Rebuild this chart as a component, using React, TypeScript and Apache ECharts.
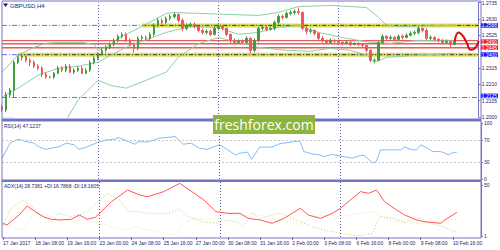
import React, { useEffect, useRef } from "react";
import * as echarts from "echarts";

const tickLabels = ["17 Jan 2017", "18 Jan 08:00", "19 Jan 16:00", "23 Jan 00:00", "24 Jan 08:00", "25 Jan 16:00", "27 Jan 00:00", "30 Jan 08:00", "31 Jan 16:00", "2 Feb 00:00", "3 Feb 08:00", "6 Feb 16:00", "8 Feb 00:00", "9 Feb 08:00", "10 Feb 16:00"];
const barCount = 120;
const weekStarts = [24, 54, 84];

// [open, close, low, high]
const candles: number[][] = [
  [1.2064, 1.2045, 1.2032, 1.2077], [1.2045, 1.2141, 1.2032, 1.2160], [1.2141, 1.2173, 1.2128, 1.2185], [1.2173, 1.2351, 1.2128, 1.2364],
  [1.2351, 1.2383, 1.2339, 1.2396], [1.2383, 1.2390, 1.2364, 1.2403], [1.2390, 1.2364, 1.2351, 1.2396], [1.2364, 1.2351, 1.2326, 1.2377],
  [1.2351, 1.2326, 1.2313, 1.2364], [1.2326, 1.2313, 1.2300, 1.2339], [1.2313, 1.2275, 1.2256, 1.2326], [1.2275, 1.2256, 1.2243, 1.2288],
  [1.2256, 1.2256, 1.2249, 1.2262], [1.2256, 1.2281, 1.2243, 1.2288], [1.2281, 1.2313, 1.2275, 1.2326], [1.2313, 1.2300, 1.2288, 1.2326],
  [1.2300, 1.2326, 1.2288, 1.2339], [1.2326, 1.2288, 1.2281, 1.2339], [1.2288, 1.2300, 1.2275, 1.2313], [1.2300, 1.2313, 1.2288, 1.2326],
  [1.2313, 1.2281, 1.2275, 1.2326], [1.2281, 1.2300, 1.2275, 1.2313], [1.2300, 1.2351, 1.2288, 1.2364], [1.2351, 1.2377, 1.2339, 1.2390],
  [1.2377, 1.2409, 1.2364, 1.2415], [1.2409, 1.2428, 1.2396, 1.2441], [1.2428, 1.2447, 1.2415, 1.2460], [1.2447, 1.2466, 1.2435, 1.2479],
  [1.2466, 1.2492, 1.2454, 1.2505], [1.2492, 1.2518, 1.2479, 1.2530], [1.2518, 1.2530, 1.2505, 1.2543], [1.2530, 1.2492, 1.2479, 1.2543],
  [1.2492, 1.2466, 1.2454, 1.2505], [1.2466, 1.2441, 1.2415, 1.2479], [1.2441, 1.2505, 1.2428, 1.2518], [1.2505, 1.2511, 1.2492, 1.2524],
  [1.2511, 1.2505, 1.2492, 1.2524], [1.2505, 1.2530, 1.2492, 1.2543], [1.2530, 1.2588, 1.2518, 1.2601], [1.2588, 1.2620, 1.2575, 1.2633],
  [1.2620, 1.2607, 1.2594, 1.2633], [1.2607, 1.2633, 1.2594, 1.2645], [1.2633, 1.2645, 1.2620, 1.2658], [1.2645, 1.2658, 1.2633, 1.2671],
  [1.2658, 1.2620, 1.2607, 1.2665], [1.2620, 1.2569, 1.2550, 1.2633], [1.2569, 1.2588, 1.2556, 1.2601], [1.2588, 1.2594, 1.2575, 1.2607],
  [1.2594, 1.2581, 1.2569, 1.2607], [1.2581, 1.2556, 1.2543, 1.2588], [1.2556, 1.2543, 1.2530, 1.2569], [1.2543, 1.2550, 1.2530, 1.2562],
  [1.2550, 1.2530, 1.2518, 1.2562], [1.2530, 1.2569, 1.2524, 1.2581], [1.2569, 1.2581, 1.2556, 1.2594], [1.2581, 1.2569, 1.2556, 1.2588],
  [1.2569, 1.2530, 1.2518, 1.2575], [1.2530, 1.2492, 1.2473, 1.2537], [1.2492, 1.2479, 1.2466, 1.2505], [1.2479, 1.2486, 1.2473, 1.2498],
  [1.2486, 1.2479, 1.2466, 1.2498], [1.2479, 1.2505, 1.2473, 1.2518], [1.2505, 1.2428, 1.2409, 1.2511], [1.2428, 1.2492, 1.2415, 1.2505],
  [1.2492, 1.2569, 1.2479, 1.2581], [1.2569, 1.2575, 1.2556, 1.2588], [1.2575, 1.2562, 1.2550, 1.2588], [1.2562, 1.2569, 1.2556, 1.2581],
  [1.2569, 1.2607, 1.2556, 1.2620], [1.2607, 1.2645, 1.2594, 1.2658], [1.2645, 1.2639, 1.2626, 1.2658], [1.2639, 1.2665, 1.2633, 1.2677],
  [1.2665, 1.2671, 1.2652, 1.2684], [1.2671, 1.2677, 1.2658, 1.2690], [1.2677, 1.2671, 1.2658, 1.2703], [1.2671, 1.2569, 1.2556, 1.2677],
  [1.2569, 1.2550, 1.2530, 1.2581], [1.2550, 1.2556, 1.2537, 1.2569], [1.2556, 1.2537, 1.2524, 1.2562], [1.2537, 1.2505, 1.2492, 1.2543],
  [1.2505, 1.2492, 1.2479, 1.2518], [1.2492, 1.2479, 1.2466, 1.2498], [1.2479, 1.2492, 1.2473, 1.2505], [1.2492, 1.2486, 1.2473, 1.2498],
  [1.2486, 1.2479, 1.2466, 1.2498], [1.2479, 1.2473, 1.2460, 1.2486], [1.2473, 1.2479, 1.2466, 1.2492], [1.2479, 1.2466, 1.2454, 1.2486],
  [1.2466, 1.2473, 1.2460, 1.2479], [1.2473, 1.2466, 1.2454, 1.2479], [1.2466, 1.2460, 1.2447, 1.2473], [1.2460, 1.2428, 1.2415, 1.2466],
  [1.2428, 1.2364, 1.2351, 1.2435], [1.2364, 1.2364, 1.2345, 1.2377], [1.2364, 1.2479, 1.2358, 1.2486], [1.2479, 1.2518, 1.2466, 1.2530],
  [1.2518, 1.2505, 1.2492, 1.2524], [1.2505, 1.2511, 1.2492, 1.2524], [1.2511, 1.2498, 1.2486, 1.2518], [1.2498, 1.2518, 1.2492, 1.2530],
  [1.2518, 1.2511, 1.2498, 1.2530], [1.2511, 1.2524, 1.2505, 1.2537], [1.2524, 1.2537, 1.2518, 1.2550], [1.2537, 1.2543, 1.2524, 1.2556],
  [1.2543, 1.2569, 1.2530, 1.2581], [1.2569, 1.2556, 1.2543, 1.2575], [1.2556, 1.2505, 1.2492, 1.2569], [1.2505, 1.2511, 1.2492, 1.2524],
  [1.2511, 1.2498, 1.2486, 1.2518], [1.2498, 1.2492, 1.2479, 1.2505], [1.2492, 1.2479, 1.2466, 1.2498], [1.2479, 1.2486, 1.2473, 1.2498],
  [1.2486, 1.2466, 1.2441, 1.2492], [1.2466, 1.2486, 1.2460, 1.2492],
];

const bbUpper: number[][] = [[0, 1.2288], [4, 1.2396], [8, 1.2447], [11, 1.2473], [14, 1.2479], [20, 1.2479], [23, 1.2466], [24, 1.2428], [26, 1.2447], [29, 1.2505], [34, 1.2569], [41, 1.2665], [43, 1.2671], [49, 1.2665], [57, 1.2658], [64, 1.2652], [69, 1.2671], [74, 1.2709], [82, 1.2716], [91, 1.2703], [94, 1.2639], [96, 1.2588], [99, 1.2581], [113, 1.2588]];
const bbMiddle: number[][] = [[0, 1.2128], [4, 1.2185], [9, 1.2268], [14, 1.2313], [19, 1.2326], [24, 1.2351], [27, 1.2396], [32, 1.2460], [37, 1.2505], [41, 1.2543], [47, 1.2581], [54, 1.2575], [59, 1.2530], [64, 1.2543], [69, 1.2575], [74, 1.2588], [79, 1.2543], [86, 1.2505], [92, 1.2479], [97, 1.2473], [104, 1.2492], [113, 1.2492]];
const bbLower: number[][] = [[0, 1.1994], [3, 1.1994], [5, 1.1940], [14, 1.1940], [16, 1.1981], [19, 1.2109], [24, 1.2236], [27, 1.2204], [31, 1.2185], [36, 1.2236], [41, 1.2288], [44, 1.2383], [49, 1.2470], [54, 1.2510], [59, 1.2480], [64, 1.2447], [71, 1.2428], [77, 1.2422], [82, 1.2441], [87, 1.2428], [91, 1.2396], [93, 1.2351], [96, 1.2383], [103, 1.2396], [113, 1.2409]];

const forecast: number[][] = [[113, 1.2486], [114, 1.2543], [115, 1.2522], [116, 1.2478], [117, 1.2432], [118, 1.2440], [119, 1.2488]];

const blueLevels = [1.2588, 1.2400, 1.2125];
const zoneLevels = [[35, 1.2588], [4, 1.2400]];
const redLevels = [1.2490, 1.2470, 1.2445];
const redLabelled = [1.2490, 1.2445];
const priceTicks = [1.2000, 1.2105, 1.2210, 1.2315, 1.2525, 1.2630, 1.2735];

const rsi: number[][] = [[0, 37], [2, 64], [4, 71], [6, 67], [8, 64], [9, 58], [11, 53], [13, 56], [14, 57], [16, 64], [18, 61], [19, 53], [21, 57], [24, 66], [26, 70], [28, 71], [29, 74], [31, 68], [33, 62], [34, 67], [36, 66], [38, 70], [39, 73], [41, 74], [43, 76], [45, 62], [47, 64], [49, 55], [51, 53], [54, 61], [55, 57], [58, 43], [59, 46], [61, 48], [62, 35], [64, 57], [67, 57], [69, 63], [70, 64], [72, 66], [74, 68], [75, 49], [77, 45], [79, 43], [80, 40], [82, 44], [84, 41], [85, 40], [87, 37], [89, 42], [90, 42], [92, 29], [93, 31], [94, 52], [95, 52], [99, 52], [100, 57], [102, 52], [103, 52], [104, 61], [105, 58], [107, 49], [109, 49], [110, 46], [111, 43], [112, 47], [113, 48]];
const rsiLevels = [70, 30];
const rsiTicks = [0, 30, 70, 100];

const adx: number[][] = [[0, 13.2], [1, 11.6], [4, 21.2], [6, 29.9], [8, 24.4], [10, 19.6], [12, 17.1], [14, 16.4], [17, 17.1], [19, 21.2], [21, 17.1], [23, 19], [27, 34], [31, 45.3], [34, 40.5], [36, 38.8], [40, 43.7], [44, 51.7], [47, 43.7], [50, 35.7], [53, 24.4], [56, 22.8], [59, 22.8], [61, 18], [64, 16.4], [67, 13.2], [70, 18], [74, 27.7], [76, 21.2], [79, 18], [82, 22.8], [84, 27.7], [87, 37.3], [89, 43.7], [91, 42.1], [93, 45.3], [95, 34], [98, 26], [100, 21.2], [103, 16.4], [105, 14.7], [109, 13.2], [110, 16.4], [113, 23.8]];
const plusDI: number[][] = [[0, 11.6], [2, 28], [5, 35.7], [7, 29.2], [10, 19.6], [12, 14.7], [14, 22.8], [17, 19.6], [20, 22.8], [22, 27.7], [25, 38.8], [26, 42.1], [29, 35.7], [31, 24.4], [34, 24.4], [36, 22.8], [41, 22.8], [44, 26.7], [46, 19.6], [50, 14.7], [53, 13.2], [55, 16.4], [58, 14.7], [60, 9.9], [62, 22.8], [64, 18], [69, 23], [71, 19.6], [74, 14.7], [77, 9.9], [80, 6.7], [84, 3.6], [87, 1.9], [89, 1], [92, 3.6], [93, 13.2], [94, 20], [97, 18], [100, 14.7], [104, 18], [105, 14.7], [109, 10.6], [113, 4.5]];
const minusDI: number[][] = [[0, 11.6], [2, 9.9], [5, 6.7], [7, 19.6], [9, 24.4], [12, 19.6], [14, 16.4], [18, 14.7], [20, 17.1], [24, 13.2], [27, 9.9], [31, 6.7], [33, 9.9], [36, 6.7], [40, 3.6], [43, 1.9], [45, 13.2], [48, 18], [51, 16.4], [56, 22.8], [60, 19.6], [62, 22.8], [66, 19], [70, 15], [74, 12], [76, 18], [80, 21], [84, 20], [88, 22], [92, 25], [94, 20], [97, 15], [100, 14], [104, 13], [108, 15], [113, 17]];
const adxTicks = [1, 50];

const axisColor = "#7474c4";
const textColor = "#1c1c6c";
const font = "Liberation Sans, Arial, sans-serif";

export default function App() {
  const ref = useRef<HTMLDivElement>(null);
  useEffect(() => {
    const chart = echarts.init(ref.current!, null, { renderer: "svg" });
    const cats = Array.from({ length: barCount }, (_, i) => String(i));
    const last = barCount - 1;
    const gridPos = [
      { left: 2, right: 19, top: 2, height: 115 },
      { left: 2, right: 19, top: 123, height: 56 },
      { left: 2, right: 19, top: 182, height: 55 },
    ];
    const xAxes = gridPos.map((_, g) => ({
      type: "category",
      gridIndex: g,
      data: cats,
      boundaryGap: false,
      axisLine: { show: false },
      splitLine: { show: false },
      axisTick: g === 2 ? { show: true, interval: (i: number) => i % 8 === 0, length: 3, lineStyle: { color: axisColor } } : { show: false },
      axisLabel: g === 2
        ? {
            show: true,
            showMinLabel: true,
            showMaxLabel: true,
            hideOverlap: false,
            interval: (i: number) => i % 8 === 0,
            formatter: (_v: string, i: number) => tickLabels[i / 8] ?? "",
            align: "left",
            fontSize: 5,
            lineHeight: 5,
            color: textColor,
            fontFamily: font,
            margin: 3,
          }
        : { show: false },
    }));
    const yLabel = (vals: number[], fmt: (v: number) => string) => ({
      customValues: vals,
      formatter: (v: number) => fmt(v),
      fontSize: 5,
      lineHeight: 4.6,
      color: textColor,
      fontFamily: font,
      margin: 3,
    });
    const yAxes = [
      {
        type: "value", gridIndex: 0, position: "right", min: 1.2, max: 1.2735,
        axisLine: { show: true, lineStyle: { color: axisColor } },
        axisTick: { show: true, customValues: priceTicks, length: 2, lineStyle: { color: axisColor } },
        axisLabel: yLabel(priceTicks, (v) => v.toFixed(4)),
        splitLine: { show: false },
      },
      {
        type: "value", gridIndex: 1, position: "right", min: 0, max: 100,
        axisLine: { show: true, lineStyle: { color: axisColor } },
        axisTick: { show: true, customValues: rsiTicks, length: 2, lineStyle: { color: axisColor } },
        axisLabel: yLabel(rsiTicks, (v) => String(v)),
        splitLine: { show: false },
      },
      {
        type: "value", gridIndex: 2, position: "right", min: 0, max: 53,
        axisLine: { show: true, lineStyle: { color: axisColor } },
        axisTick: { show: true, customValues: adxTicks, length: 2, lineStyle: { color: axisColor } },
        axisLabel: yLabel(adxTicks, (v) => String(v)),
        splitLine: { show: false },
      },
    ];
    const mlBase = { symbol: ["none", "none"], silent: true, animation: false };
    const endLabel = (v: number, bg: string, dy = 0) => ({
      show: true, formatter: v.toFixed(4), backgroundColor: bg, color: "#ffffff",
      fontSize: 5, lineHeight: 4.6, fontFamily: font, padding: [0, 1, 0, 1], distance: 2, offset: [0, dy],
    });
    const weekSep = (g: number) => ({
      type: "line", xAxisIndex: g, yAxisIndex: g, data: [], z: 1,
      markLine: { ...mlBase, label: { show: false }, lineStyle: { color: "#5a5aa8", type: [1, 2], width: 1 }, data: weekStarts.map((w) => ({ xAxis: w })) },
    });
    const thinLine = (data: number[][], color: string, g: number, type: any = "solid", z = 3) => ({
      type: "line", xAxisIndex: g, yAxisIndex: g, data, symbol: "none", z,
      lineStyle: { color, width: 1, type }, itemStyle: { color }, connectNulls: true,
    });
    const levelLine = (from: number, v: number, color: string, width: number, type: any, z: number, label?: any, opacity = 1) => ({
      type: "line", xAxisIndex: 0, yAxisIndex: 0, data: [[from, v], [last, v]], symbol: "none", z, silent: true,
      lineStyle: { color, width, type, opacity }, itemStyle: { color },
      endLabel: label ?? { show: false },
    });
    const series: any[] = [
      weekSep(0), weekSep(1), weekSep(2),
      ...blueLevels.map((v, k) => levelLine(0, v, "#6a6aff", 1, [5, 2, 1, 2], 2, endLabel(v, "#1414ff", k === 2 ? -1.6 : 0))),
      ...zoneLevels.map(([s, v]) => levelLine(s, v, "#d6d640", 4, "solid", 3, undefined, 0.85)),
      ...zoneLevels.map(([s, v]) => levelLine(s, v, "#3c3c3c", 1, [4, 2, 1, 2], 4)),
      ...redLevels.map((v, k) => levelLine(0, v, "#f05a5a", 1.4, "solid", 4, redLabelled.includes(v) ? endLabel(v, "#ff1a1a", k === 0 ? 1 : 0) : undefined)),
      thinLine(bbUpper, "#8ccfa6", 0, "solid", 5),
      thinLine(bbMiddle, "#8ccfa6", 0, "solid", 5),
      thinLine(bbLower, "#8ccfa6", 0, "solid", 5),
      {
        type: "candlestick", xAxisIndex: 0, yAxisIndex: 0, data: candles, z: 6, barWidth: 2,
        itemStyle: { color: "#3f9f3f", color0: "#f05858", borderColor: "#3f9f3f", borderColor0: "#f05858", borderWidth: 1 },
      },
      {
        type: "line", xAxisIndex: 0, yAxisIndex: 0, data: forecast, smooth: 0.5, symbol: "none", z: 8,
        lineStyle: { color: "#d01010", width: 2 },
      },
      {
        ...thinLine(rsi, "#7fbcff", 1),
        markLine: { ...mlBase, label: { show: false }, lineStyle: { color: "#c4c4c4", type: [2, 2], width: 1 }, data: rsiLevels.map((v) => ({ yAxis: v })) },
      },
      thinLine(minusDI, "#efe2a8", 2, [1, 2], 3),
      thinLine(plusDI, "#b6d46a", 2, [1, 2], 4),
      thinLine(adx, "#ff5656", 2, "solid", 5),
    ];
    chart.setOption({
      animation: false,
      backgroundColor: "#ffffff",
      grid: gridPos,
      xAxis: xAxes,
      yAxis: yAxes,
      series,
      graphic: [
        { type: "rect", z: 100, silent: true, shape: { x: 2, y: 1, width: 479, height: 237 }, style: { fill: "none", stroke: axisColor, lineWidth: 1 } },
        { type: "rect", z: 100, silent: true, shape: { x: 2, y: 118.5, width: 479, height: 3 }, style: { fill: axisColor } },
        { type: "rect", z: 100, silent: true, shape: { x: 2, y: 179.5, width: 479, height: 2.5 }, style: { fill: axisColor } },
        { type: "polygon", z: 100, silent: true, shape: { points: [[3, 3.5], [8, 3.5], [5.5, 7]] }, style: { fill: textColor } },
        { type: "text", z: 100, silent: true, x: 10, y: 5.5, style: { text: "GBPUSD,H4", fontSize: 6, fontFamily: font, fill: textColor, verticalAlign: "middle" } },
        { type: "text", z: 100, silent: true, x: 4, y: 126, style: { text: "RSI(14) 47.1237", fontSize: 5, fontFamily: font, fill: textColor, verticalAlign: "middle" } },
        { type: "text", z: 100, silent: true, x: 4, y: 186, style: { text: "ADX(14) 28.7381 +DI:16.7868 -DI:18.1605", fontSize: 5, fontFamily: font, fill: textColor, verticalAlign: "middle" } },
        { type: "rect", z: 110, silent: true, shape: { x: 213, y: 115, width: 102, height: 19 }, style: { fill: "#8db53e" } },
        { type: "text", z: 111, silent: true, x: 264, y: 124.5, style: { text: "freshforex.com", fontSize: 14, fontFamily: "Open Sans, sans-serif", fill: "#ffffff", align: "center", verticalAlign: "middle" } },
      ],
    });
    return () => chart.dispose();
  }, []);
  return <div ref={ref} style={{ position: "fixed", left: 0, top: 0, width: 500, height: 250, background: "#fff" }} />;
}
